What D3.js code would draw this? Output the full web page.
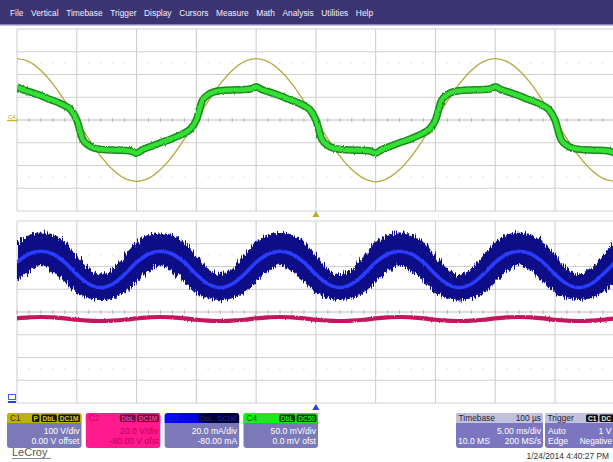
<!DOCTYPE html>
<html><head><meta charset="utf-8">
<script src="https://cdn.jsdelivr.net/npm/d3@7"></script>
<style>html,body{margin:0;padding:0;background:#fff;overflow:hidden}svg{display:block;font-family:"Liberation Sans",Arial,sans-serif}</style>
</head><body><svg id="c" width="613" height="462"></svg>
<script>
// ---------------- DATA ----------------
const menuItems = ["File","Vertical","Timebase","Trigger","Display","Cursors","Measure","Math","Analysis","Utilities","Help"];
// time axis (ms, trigger at 0), 5 ms/div, 10 divisions
const timeTicks = [-25,-20,-15,-10,-5,0,5,10,15,20,25];
const divTicks = [-4,-3,-2,-1,0,1,2,3,4];
// C1 (yellow) in divisions, 1 ms steps from -25 to 25 ms
const c1Vals = [2.70,2.57,2.18,1.59,0.83,0,-0.83,-1.59,-2.18,-2.57,-2.70,-2.57,-2.18,-1.59,-0.83,0,0.83,1.59,2.18,2.57,2.70,2.57,2.18,1.59,0.83,0,-0.83,-1.59,-2.18,-2.57,-2.72,-2.57,-2.18,-1.59,-0.83,0,0.83,1.59,2.18,2.57,2.70,2.57,2.18,1.59,0.83,0,-0.83,-1.59,-2.18,-2.57,-2.70];
// C4 (green) in divisions, 0.5 ms steps from -25 to 25 ms
const c4Vals = [1.46,1.33,1.25,1.16,1.07,0.96,0.86,0.76,0.63,0.45,0,-0.85,-1.12,-1.24,-1.29,-1.31,-1.32,-1.33,-1.34,-1.36,-1.46,-1.30,-1.20,-1.10,-1.00,-0.91,-0.81,-0.70,-0.57,-0.40,0,0.85,1.12,1.24,1.29,1.31,1.32,1.33,1.34,1.36,1.46,1.33,1.25,1.16,1.07,0.96,0.86,0.76,0.63,0.45,0,-0.85,-1.12,-1.24,-1.29,-1.31,-1.32,-1.33,-1.34,-1.36,-1.46,-1.30,-1.20,-1.10,-1.00,-0.91,-0.81,-0.70,-0.57,-0.40,0,0.85,1.12,1.24,1.29,1.31,1.32,1.33,1.34,1.36,1.46,1.33,1.25,1.16,1.07,0.96,0.86,0.76,0.63,0.45,0,-0.85,-1.12,-1.24,-1.29,-1.31,-1.32,-1.33,-1.34,-1.36,-1.46];
// C3 (blue current) centre, upper & lower noise envelope, divisions, 1 ms steps
const c3Mid = [2.18,2.55,2.67,2.55,2.18,1.65,1.23,1.07,1.23,1.65, 2.18,2.55,2.67,2.55,2.18,1.65,1.23,1.07,1.23,1.65, 2.18,2.55,2.67,2.55,2.18,1.65,1.23,1.07,1.23,1.65, 2.18,2.55,2.67,2.55,2.18,1.65,1.23,1.07,1.23,1.65, 2.18,2.55,2.67,2.55,2.18,1.65,1.23,1.07,1.23,1.65, 2.18];
const c3Hi  = [3.08,3.40,3.48,3.40,3.08,2.48,1.90,1.65,1.90,2.48, 3.08,3.38,3.45,3.38,3.08,2.48,1.90,1.66,1.90,2.48, 3.08,3.40,3.47,3.40,3.08,2.48,1.90,1.65,1.90,2.48, 3.08,3.40,3.49,3.40,3.08,2.48,1.90,1.64,1.90,2.48, 3.08,3.40,3.48,3.40,3.08,2.48,1.90,1.65,1.90,2.48, 3.08];
const c3Lo  = [1.33,1.78,2.07,1.78,1.33,0.84,0.60,0.53,0.60,0.84, 1.33,1.78,2.05,1.78,1.33,0.84,0.60,0.52,0.60,0.84, 1.33,1.78,2.07,1.78,1.33,0.84,0.60,0.53,0.60,0.84, 1.33,1.78,2.06,1.78,1.33,0.84,0.60,0.51,0.60,0.84, 1.33,1.78,2.07,1.78,1.33,0.84,0.60,0.53,0.60,0.84, 1.33];
// C2 (pink voltage) divisions, 1 ms steps
const c2Vals = [-0.28,-0.24,-0.22,-0.24,-0.28,-0.34,-0.38,-0.40,-0.38,-0.34, -0.28,-0.24,-0.22,-0.24,-0.28,-0.34,-0.38,-0.40,-0.38,-0.34, -0.28,-0.24,-0.22,-0.24,-0.28,-0.34,-0.38,-0.40,-0.38,-0.34, -0.28,-0.24,-0.22,-0.24,-0.28,-0.34,-0.38,-0.40,-0.38,-0.34, -0.28,-0.24,-0.22,-0.24,-0.28,-0.34,-0.38,-0.40,-0.38,-0.34, -0.28];
// channel descriptor boxes
const chanIds = ["C1","C2","C3","C4"];
const chanBadges = [["P","DbL","DC1M"],["DbL","DC1M"],["DbL","DC1M"],["DbL","DC50"]];
const chanLine1 = ["100 V/div","20.0 V/div","20.0 mA/div","50.0 mV/div"];
const chanLine2 = ["0.00 V offset","-80.00 V ofst","-80.00 mA","0.0 mV ofst"];
const timebaseText = ["Timebase","100 µs","5.00 ms/div","10.0 MS","200 MS/s"];
const triggerText = ["Trigger","C1","DC","Auto","1 V","Edge","Negative"];
const dateText = "1/24/2014 4:40:27 PM";

// ---------------- DRAW ----------------
const svg = d3.select("#c");
const t1 = d3.range(-25, 25.5, 1);
const t05 = d3.range(-25, 25.25, 0.5);

const x = d3.scaleLinear().domain([-25,25]).range([17, 614.8]);
const yUp = d3.scaleLinear().domain([-4,4]).range([211, 29]);
const yLo = d3.scaleLinear().domain([-4,4]).range([403, 221]);

const defs = svg.append("defs");
const f = defs.append("filter").attr("id","jag").attr("x","-2%").attr("y","-30%").attr("width","104%").attr("height","160%");
f.append("feTurbulence").attr("type","fractalNoise").attr("baseFrequency","0.9 0.06").attr("numOctaves",2).attr("seed",4).attr("result","n");
f.append("feDisplacementMap").attr("in","SourceGraphic").attr("in2","n").attr("scale",10).attr("xChannelSelector","R").attr("yChannelSelector","G");
const f2 = defs.append("filter").attr("id","jag2").attr("x","-2%").attr("y","-30%").attr("width","104%").attr("height","160%");
f2.append("feTurbulence").attr("type","fractalNoise").attr("baseFrequency","0.9 0.2").attr("numOctaves",1).attr("seed",7).attr("result","n");
f2.append("feDisplacementMap").attr("in","SourceGraphic").attr("in2","n").attr("scale",2.5).attr("xChannelSelector","R").attr("yChannelSelector","G");
const gr = defs.append("linearGradient").attr("id","c3grad");
gr.append("stop").attr("offset","0").attr("stop-color","#0a0aff");
gr.append("stop").attr("offset","0.45").attr("stop-color","#0000e0");
gr.append("stop").attr("offset","0.6").attr("stop-color","#000050");
gr.append("stop").attr("offset","1").attr("stop-color","#00003a");

// menu bar
svg.append("rect").attr("x",0).attr("y",0).attr("width",613).attr("height",24).attr("fill","#3c3471");
svg.append("rect").attr("x",0).attr("y",24).attr("width",613).attr("height",1.5).attr("fill","#8a84b8");
let mx = 10;
const menuG = svg.append("g");
menuItems.forEach(m => {
  const t = menuG.append("text").attr("x",mx).attr("y",15.5).attr("fill","#f2f0ff").attr("font-size","8.4px").text(m);
  mx += t.node().getComputedTextLength() + 7.6;
});

// graticules
function grid(ys) {
  const g = svg.append("g");
  g.selectAll("line.v").data(timeTicks).join("line")
    .attr("x1",d=>x(d)).attr("x2",d=>x(d)).attr("y1",ys(4)).attr("y2",ys(-4))
    .attr("stroke","#cbcbcb").attr("stroke-width",1);
  g.selectAll("line.h").data(divTicks).join("line")
    .attr("x1",x(-25)).attr("x2",x(25)).attr("y1",d=>ys(d)).attr("y2",d=>ys(d))
    .attr("stroke",d=>d===0?"#bdbdbd":"#d0d0d0").attr("stroke-width",1);
  [2.5,-2.5].forEach(v=>{
    g.append("line").attr("x1",x(-25)).attr("x2",x(25)).attr("y1",ys(v)).attr("y2",ys(v))
      .attr("stroke","#d6d6d6").attr("stroke-dasharray","1.5 10.45").attr("stroke-dashoffset",-11.2);
  });
  const minor = d3.range(-25, 25.01, 1);
  g.selectAll("line.t").data(minor).join("line")
    .attr("x1",d=>x(d)).attr("x2",d=>x(d)).attr("y1",ys(0)-2).attr("y2",ys(0)+2)
    .attr("stroke","#b5b5b5").attr("stroke-width",1);
}
grid(yUp); grid(yLo);

// markers / icons
svg.append("text").attr("x",8).attr("y",yUp(0)-1.5).attr("font-size","6px").attr("fill","#b9ab1c").text("C4");
svg.append("line").attr("x1",7).attr("x2",17).attr("y1",yUp(0)+0.5).attr("y2",yUp(0)+0.5).attr("stroke","#c8b830").attr("stroke-width",1.5);
svg.append("rect").attr("x",8.5).attr("y",394.5).attr("width",7).attr("height",5).attr("fill","none").attr("stroke","#3c5cff").attr("stroke-width",1);
svg.append("rect").attr("x",8).attr("y",401).attr("width",8).attr("height",2).attr("fill","#2040ff");
svg.append("path").attr("d",d3.symbol(d3.symbolTriangle,22)()).attr("transform",`translate(${x(0)},${yUp(-4)+4})`).attr("fill","#b5aa2a");
svg.append("path").attr("d",d3.symbol(d3.symbolTriangle,22)()).attr("transform",`translate(${x(0)},${yLo(-4)+5})`).attr("fill","#2244ee");

// clip to graticules
defs.append("clipPath").attr("id","clipU").append("rect").attr("x",x(-25)).attr("y",yUp(4)).attr("width",x(25)-x(-25)).attr("height",yUp(-4)-yUp(4));
defs.append("clipPath").attr("id","clipL").append("rect").attr("x",x(-25)).attr("y",yLo(4)).attr("width",x(25)-x(-25)).attr("height",yLo(-4)-yLo(4));

// upper traces
const gU = svg.append("g").attr("clip-path","url(#clipU)");
const c1Data = t1.map((t,i)=>({t, v:c1Vals[i]}));
const c4Data = t05.map((t,i)=>({t, v:c4Vals[i]}));
gU.append("path").datum(c1Data)
  .attr("d", d3.line().x(d=>x(d.t)).y(d=>yUp(d.v)).curve(d3.curveCatmullRom))
  .attr("fill","none").attr("stroke","#b8ab42").attr("stroke-width",1.4);
const c4Line = d3.line().x(d=>x(d.t)).y(d=>yUp(d.v)).curve(d3.curveMonotoneX);
const g4 = gU.append("g").attr("filter","url(#jag2)");
g4.append("path").datum(c4Data).attr("d",c4Line).attr("fill","none").attr("stroke","#1d8a1d").attr("stroke-width",7.5).attr("stroke-linejoin","round");
g4.append("path").datum(c4Data).attr("d",c4Line).attr("fill","none").attr("stroke","#35e035").attr("stroke-width",4.5).attr("stroke-linejoin","round");

// lower traces
const gL = svg.append("g").attr("clip-path","url(#clipL)");
const c3Data = t1.map((t,i)=>({t, m:c3Mid[i], hi:c3Hi[i], lo:c3Lo[i]}));
const c2Data = t1.map((t,i)=>({t, v:c2Vals[i]}));
gL.append("path").datum(c3Data)
  .attr("d", d3.area().x(d=>x(d.t)).y0(d=>yLo(d.lo)).y1(d=>yLo(d.hi)).curve(d3.curveCatmullRom))
  .attr("fill","#0a0a88").attr("filter","url(#jag)");
gL.append("path").datum(c3Data)
  .attr("d", d3.line().x(d=>x(d.t)).y(d=>yLo(d.m)).curve(d3.curveCatmullRom))
  .attr("fill","none").attr("stroke","#2a3cff").attr("stroke-width",3.6).attr("filter","url(#jag2)");
gL.append("path").datum(c2Data)
  .attr("d", d3.line().x(d=>x(d.t)).y(d=>yLo(d.v)).curve(d3.curveCatmullRom))
  .attr("fill","none").attr("stroke","#c4145e").attr("stroke-width",4.2).attr("filter","url(#jag2)");

// ---------------- bottom descriptor boxes ----------------
const boxStyle = {
  C1:{head:"#bdb300", headTxt:"#3a3500", badge:"#151500", badgeTxt:"#d8cc20", body:"#7c79b9", bodyTxt:"#ffffff"},
  C2:{head:"#ff1a8d", headTxt:"#d4006a", badge:"#70003a", badgeTxt:"#ff3a9a", body:"#ff1a8d", bodyTxt:"#c0005e"},
  C3:{head:"url(#c3grad)", headTxt:"#1a1acc", badge:"#00002e", badgeTxt:"#1a1a8a", body:"#7c79b9", bodyTxt:"#ffffff"},
  C4:{head:"#1ee81e", headTxt:"#0a5a0a", badge:"#0a3a0a", badgeTxt:"#30e030", body:"#7c79b9", bodyTxt:"#ffffff"}
};
const bx = d3.scaleBand().domain(chanIds).range([7, 318]).paddingInner(0.055).paddingOuter(0);
const boxTop = 413, boxH = 35, headH = 10;
chanIds.forEach((id,i)=>{
  const s = boxStyle[id], x0 = bx(id), w = bx.bandwidth();
  const g = svg.append("g");
  g.append("rect").attr("x",x0).attr("y",boxTop).attr("width",w).attr("height",boxH).attr("rx",3).attr("fill",s.body);
  g.append("path").attr("d",`M${x0},${boxTop+headH} V${boxTop+3} Q${x0},${boxTop} ${x0+3},${boxTop} H${x0+w-3} Q${x0+w},${boxTop} ${x0+w},${boxTop+3} V${boxTop+headH} Z`).attr("fill",s.head);
  g.append("text").attr("x",x0+3).attr("y",boxTop+8.2).attr("font-size","8.2px").attr("fill",s.headTxt).text(id);
  let bxr = x0 + w - 1.5;
  chanBadges[i].slice().reverse().forEach(b=>{
    const t = g.append("text").attr("y",boxTop+7.8).attr("font-size","6.6px").attr("font-weight","bold").attr("fill",s.badgeTxt).text(b);
    const tw = t.node().getComputedTextLength();
    g.insert("rect","text:last-of-type").attr("x",bxr-tw-3).attr("y",boxTop+1.5).attr("width",tw+3).attr("height",7.5).attr("rx",1.5).attr("fill",s.badge);
    t.attr("x",bxr-tw-1.5);
    t.raise();
    bxr -= tw + 4.5;
  });
  g.append("text").attr("x",x0+w-2).attr("y",boxTop+21).attr("text-anchor","end").attr("font-size","8.6px").attr("fill",s.bodyTxt).text(chanLine1[i]);
  g.append("text").attr("x",x0+w-2).attr("y",boxTop+31).attr("text-anchor","end").attr("font-size","8.6px").attr("fill",s.bodyTxt).text(chanLine2[i]);
});

function panel(x0, w, headTxt) {
  const g = svg.append("g");
  g.append("rect").attr("x",x0).attr("y",boxTop).attr("width",w).attr("height",boxH).attr("rx",3).attr("fill","#7b76bf");
  g.append("path").attr("d",`M${x0},${boxTop+headH} V${boxTop+3} Q${x0},${boxTop} ${x0+3},${boxTop} H${x0+w-3} Q${x0+w},${boxTop} ${x0+w},${boxTop+3} V${boxTop+headH} Z`).attr("fill","#c3c0de");
  g.append("text").attr("x",x0+2.5).attr("y",boxTop+8.3).attr("font-size","8.4px").attr("fill","#1e1e2e").text(headTxt);
  return g;
}
const tb = panel(456, 87, timebaseText[0]);
tb.append("text").attr("x",541).attr("y",boxTop+8.3).attr("text-anchor","end").attr("font-size","8.4px").attr("fill","#1e1e2e").text(timebaseText[1]);
tb.append("text").attr("x",541).attr("y",boxTop+21).attr("text-anchor","end").attr("font-size","8.6px").attr("fill","#fff").text(timebaseText[2]);
tb.append("text").attr("x",458).attr("y",boxTop+31).attr("font-size","8.6px").attr("fill","#fff").text(timebaseText[3]);
tb.append("text").attr("x",541).attr("y",boxTop+31).attr("text-anchor","end").attr("font-size","8.6px").attr("fill","#fff").text(timebaseText[4]);

const tr = panel(545, 80, triggerText[0]);
tr.append("rect").attr("x",586).attr("y",boxTop+1.5).attr("width",12).attr("height",7.5).attr("rx",1.5).attr("fill","#111");
tr.append("text").attr("x",588).attr("y",boxTop+7.8).attr("font-size","6.6px").attr("font-weight","bold").attr("fill","#e8e8e8").text(triggerText[1]);
tr.append("rect").attr("x",599.5).attr("y",boxTop+1.5).attr("width",16).attr("height",7.5).attr("rx",1.5).attr("fill","#111");
tr.append("text").attr("x",601.5).attr("y",boxTop+7.8).attr("font-size","6.6px").attr("font-weight","bold").attr("fill","#e8e8e8").text(triggerText[2]);
tr.append("text").attr("x",548).attr("y",boxTop+21).attr("font-size","8.6px").attr("fill","#fff").text(triggerText[3]);
tr.append("text").attr("x",611.5).attr("y",boxTop+21).attr("text-anchor","end").attr("font-size","8.6px").attr("fill","#fff").text(triggerText[4]);
tr.append("text").attr("x",548).attr("y",boxTop+31).attr("font-size","8.6px").attr("fill","#fff").text(triggerText[5]);
tr.append("text").attr("x",612).attr("y",boxTop+31).attr("text-anchor","end").attr("font-size","8.2px").attr("fill","#fff").text(triggerText[6]);

svg.append("text").attr("x",609).attr("y",459).attr("text-anchor","end").attr("font-size","8.4px").attr("fill","#333").text(dateText);
svg.append("text").attr("x",12).attr("y",456).attr("font-size","11px").attr("fill","#555").text("LeCroy");
svg.append("line").attr("x1",12).attr("x2",51).attr("y1",458.5).attr("y2",458.5).attr("stroke","#888").attr("stroke-width",1);
</script></body></html>
